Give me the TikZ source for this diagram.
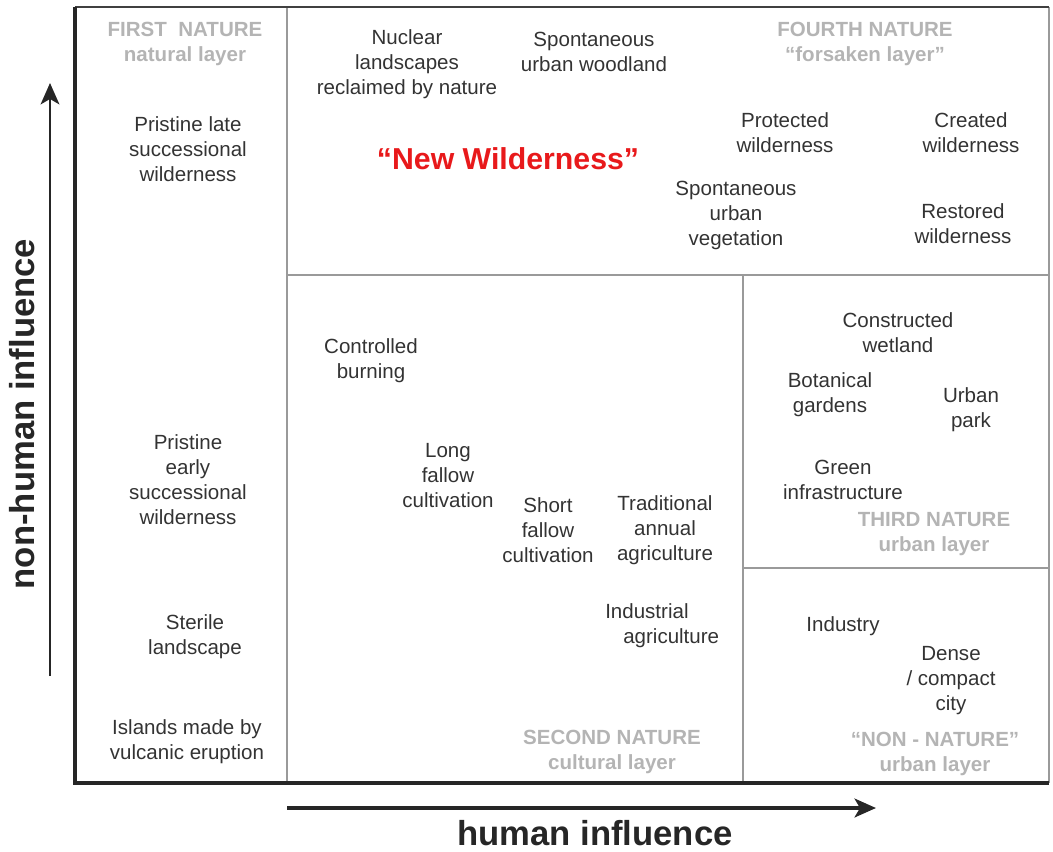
\documentclass[tikz,border=0pt]{standalone}
\usepackage{fontspec}
\setmainfont{Liberation Sans}
\usetikzlibrary{arrows.meta}
\definecolor{darktext}{HTML}{333333}
\definecolor{lightlbl}{HTML}{B4B4B4}
\definecolor{gridgray}{HTML}{9A9A9A}
\definecolor{nwred}{HTML}{E8191B}
\newcommand\bodyf{\fontsize{15.4}{18.75}\selectfont}
\newcommand\bigf{\fontsize{22.7}{26}\selectfont\bfseries}
\newcommand\axisf{\fontsize{26}{30}\selectfont\bfseries}
\tikzset{
  txt/.style={font=\bodyf, text=darktext, align=center, inner sep=0pt, yshift=-1.5pt},
  lbl/.style={font=\bodyf\bfseries, text=lightlbl, align=center, inner sep=0pt, yshift=-1.5pt},
  thickframe/.style={line width=2.6pt, draw=black!85},
  topframe/.style={line width=1.6pt, draw=black!75},
  thinline/.style={line width=1.2pt, draw=gridgray},
  axisarrow/.style={draw=black!85, -{Stealth[length=16pt,width=14pt,inset=4pt]}},
}
\begin{document}
\begin{tikzpicture}[x=0.75pt,y=-0.75pt]
\useasboundingbox (0,0) rectangle (1053,851);
% frame corners
\coordinate (tl) at (75,7);
\coordinate (tr) at (1049,7);
\coordinate (bl) at (75,783);
\coordinate (br) at (1049,783);
% inner grid coordinates
\coordinate (v1t) at (287,7);
\coordinate (v1b) at (287,783);
\coordinate (h1l) at (287,275);
\coordinate (h1r) at (1049,275);
\coordinate (v2t) at (743,275);
\coordinate (v2b) at (743,783);
\coordinate (h2l) at (743,568);
\coordinate (h2r) at (1049,568);
% inner lines
\draw[thinline] (v1t) -- (v1b);
\draw[thinline] (h1l) -- (h1r);
\draw[thinline] (v2t) -- (v2b);
\draw[thinline] (h2l) -- (h2r);
\draw[thinline] (tr) -- (br);
\draw[topframe] (tl) -- (tr);
\draw[thickframe] (tl) -- (bl) -- (br);
% axes
\coordinate (xa0) at (287,808);
\coordinate (xa1) at (876,808);
\coordinate (ya0) at (50,676);
\coordinate (ya1) at (50,83);
\draw[axisarrow, line width=3pt] (xa0) -- (xa1);
\draw[axisarrow, line width=2pt] (ya0) -- (ya1);
\node[font=\axisf, text=black!85, inner sep=0pt] (hum) at (595,833) {human influence};
\node[font=\axisf, text=black!85, inner sep=0pt, rotate=90] (nonhum) at (22,414) {non-human influence};
% first nature
\node[lbl] (first) at (185,41.5) {FIRST\ \ NATURE\\natural layer};
\node[txt] (plate) at (188,147) {Pristine late\\successional\\wilderness};
\node[txt] (pearly) at (188,477.5) {Pristine\\early\\successional\\wilderness};
\node[txt] (sterile) at (195,634.5) {Sterile\\landscape};
\node[txt] (islands) at (187,739.5) {Islands made by\\vulcanic eruption};
% fourth nature
\node[txt] (nuclear) at (407,62) {Nuclear\\landscapes\\reclaimed by nature};
\node[txt] (spontw) at (594,49.5) {Spontaneous\\urban woodland};
\node[font=\bigf, text=nwred, inner sep=0pt] (newwild) at (508,159) {“New Wilderness”};
\node[lbl] (fourth) at (865,41.5) {FOURTH NATURE\\“forsaken layer”};
\node[txt] (protected) at (785,130.5) {Protected\\wilderness};
\node[txt] (created) at (971,130.5) {Created\\wilderness};
\node[txt] (spontveg) at (736,213) {Spontaneous\\urban\\vegetation};
\node[txt] (restored) at (963,221.5) {Restored\\wilderness};
% second nature
\node[txt] (controlled) at (371,358.5) {Controlled\\burning};
\node[txt] (long) at (448,474) {Long\\fallow\\cultivation};
\node[txt] (short) at (548,528) {Short\\fallow\\cultivation};
\node[txt] (trad) at (665,528) {Traditional\\annual\\agriculture};
\node[txt, align=left, anchor=west] (indag) at (605,623.5) {Industrial\\\hspace*{13.5pt}agriculture};
\node[lbl] (second) at (612,749.5) {SECOND NATURE\\cultural layer};
% third nature
\node[txt] (constructed) at (898,330.5) {Constructed\\wetland};
\node[txt] (botanical) at (830,392.5) {Botanical\\gardens};
\node[txt] (urbanpark) at (971,407.5) {Urban\\park};
\node[txt] (green) at (843,477.5) {Green\\infrastructure};
\node[lbl] (third) at (934,532.5) {THIRD NATURE\\urban layer};
% non-nature
\node[txt] (industry) at (843,624) {Industry};
\node[txt] (dense) at (951,679) {Dense\\/ compact\\city};
\node[lbl] (nonnature) at (935,751.5) {“NON - NATURE”\\urban layer};
\end{tikzpicture}
\end{document}
